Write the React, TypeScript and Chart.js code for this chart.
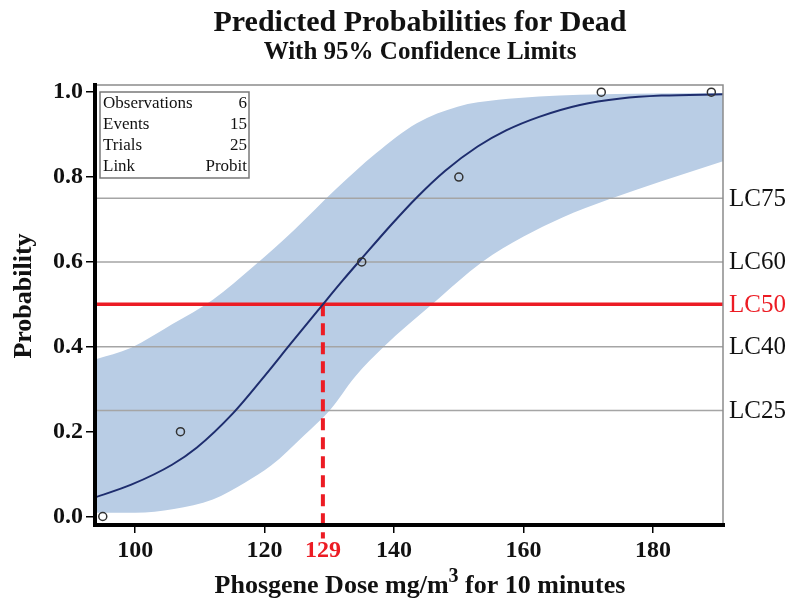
import React, { useEffect, useRef } from "react";
import { Chart, registerables } from "chart.js";

Chart.register(...registerables);

// ---- Text ----
const TITLE = "Predicted Probabilities for Dead";
const SUBTITLE = "With 95% Confidence Limits";
const X_TITLE_MAIN = "Phosgene Dose mg/m";
const X_TITLE_SUP = "3";
const X_TITLE_END = " for 10 minutes";
const Y_TITLE = "Probability";

// ---- Axes ----
const X_MIN = 93.8;
const X_MAX = 190.8;
const Y_MIN = -0.02;
const Y_MAX = 1.017;
const X_TICKS = [100, 120, 129, 140, 160, 180];
const Y_TICKS = [0, 0.2, 0.4, 0.6, 0.8, 1.0];

// ---- LC reference levels ----
const LC50_DOSE = 129;
const LC_LEVELS = [0.75, 0.6, 0.5, 0.4, 0.25];
const LC_LABELS = ["LC75", "LC60", "LC50", "LC40", "LC25"];

// ---- Stats inset ----
const STAT_NAMES = ["Observations", "Events", "Trials", "Link"];
const STAT_VALUES = ["6", "15", "25", "Probit"];

// ---- Observed proportions ----
const OBS_DOSE = [95, 107, 135, 150, 172, 189];
const OBS_PROB = [0, 0.2, 0.6, 0.8, 1.0, 1.0];

// ---- Fitted probit curve ----
const FIT_DOSE = [93.8, 99.4, 105.7, 109.5, 115.1, 120.2, 123.9, 129, 132.1, 135.1, 139.7, 143.5, 147.9, 152.9, 157.3, 162.4, 168.7, 175, 181.3, 190.8];
const FIT_PROB = [0.045, 0.075, 0.122, 0.162, 0.243, 0.335, 0.405, 0.5, 0.557, 0.61, 0.69, 0.752, 0.815, 0.872, 0.91, 0.942, 0.97, 0.985, 0.992, 0.995];

// ---- 95% confidence limits ----
const UPPER_DOSE = [93.8, 99.4, 105.7, 112, 118.3, 124.6, 130.9, 137.2, 143.5, 149.8, 156.1, 162.4, 168.7, 180, 190.8];
const UPPER_PROB = [0.37, 0.398, 0.453, 0.511, 0.59, 0.676, 0.77, 0.856, 0.927, 0.966, 0.982, 0.99, 0.994, 0.997, 0.998];
const LOWER_DOSE = [93.8, 100, 106, 112, 117, 121, 126, 130.2, 134, 138.4, 146, 153.6, 160, 166, 173.1, 181.3, 190.8];
const LOWER_PROB = [0.009, 0.009, 0.018, 0.04, 0.08, 0.12, 0.19, 0.253, 0.33, 0.4, 0.502, 0.6, 0.66, 0.705, 0.747, 0.79, 0.837];

const SERIF = "'Liberation Serif', 'Times New Roman', serif";
const RED = "rgb(236,28,36)";
const BAND = "rgb(185,205,229)";
const NAVY = "rgb(30,45,110)";
const GRID_GRAY = "rgb(165,165,165)";

const zip = (xs: number[], ys: number[]) => xs.map((x, i) => ({ x, y: ys[i] }));

const decorPlugin = {
  id: "decor",
  afterDatasetsDraw(chart: any) {
    const ctx: CanvasRenderingContext2D = chart.ctx;
    const { left, right, top, bottom } = chart.chartArea;
    ctx.save();
    // top/right frame (thin gray)
    ctx.strokeStyle = "rgb(140,140,140)";
    ctx.lineWidth = 1.5;
    ctx.beginPath();
    ctx.moveTo(left, top);
    ctx.lineTo(right, top);
    ctx.lineTo(right, bottom);
    ctx.stroke();
    // left/bottom axis lines (thick black)
    ctx.strokeStyle = "#000";
    ctx.lineWidth = 4;
    ctx.lineCap = "square";
    ctx.beginPath();
    ctx.moveTo(left, top);
    ctx.lineTo(left, bottom);
    ctx.lineTo(right, bottom);
    ctx.stroke();
    ctx.restore();
  },
  afterDraw(chart: any) {
    const ctx: CanvasRenderingContext2D = chart.ctx;
    const { left, right, top } = chart.chartArea;
    const ys = chart.scales.y;
    ctx.save();

    // LC labels
    ctx.font = `25px ${SERIF}`;
    ctx.textAlign = "left";
    ctx.textBaseline = "middle";
    LC_LEVELS.forEach((lv, i) => {
      ctx.fillStyle = lv === 0.5 ? RED : "#111";
      ctx.fillText(LC_LABELS[i], right + 6, ys.getPixelForValue(lv) + 1);
    });

    // Stats inset
    const bx = left + 5, by = top + 7, bw = 149, bh = 86;
    ctx.fillStyle = "#fff";
    ctx.fillRect(bx, by, bw, bh);
    ctx.strokeStyle = "rgb(120,120,120)";
    ctx.lineWidth = 1.5;
    ctx.strokeRect(bx, by, bw, bh);
    ctx.font = `17px ${SERIF}`;
    ctx.fillStyle = "#111";
    STAT_NAMES.forEach((n, i) => {
      const yy = by + 12 + i * 20.7;
      ctx.textAlign = "left";
      ctx.fillText(n, bx + 3, yy);
      ctx.textAlign = "right";
      ctx.fillText(STAT_VALUES[i], bx + bw - 2, yy);
    });

    // Titles
    const cx = 420;
    ctx.fillStyle = "#111";
    ctx.textAlign = "center";
    ctx.font = `bold 30px ${SERIF}`;
    ctx.fillText(TITLE, cx, 23);
    ctx.font = `bold 25px ${SERIF}`;
    ctx.fillText(SUBTITLE, cx, 53);

    // Y axis title
    ctx.save();
    ctx.translate(24, 296);
    ctx.rotate(-Math.PI / 2);
    ctx.font = `bold 26px ${SERIF}`;
    ctx.fillText(Y_TITLE, 0, 0);
    ctx.restore();

    // X axis title with superscript
    ctx.textAlign = "left";
    const mainFont = `bold 26px ${SERIF}`;
    const supFont = `bold 20px ${SERIF}`;
    ctx.font = mainFont;
    const w1 = ctx.measureText(X_TITLE_MAIN).width;
    const w3 = ctx.measureText(X_TITLE_END).width;
    ctx.font = supFont;
    const w2 = ctx.measureText(X_TITLE_SUP).width;
    const x0 = cx - (w1 + w2 + w3) / 2;
    const ty = 586;
    ctx.font = mainFont;
    ctx.fillText(X_TITLE_MAIN, x0, ty);
    ctx.font = supFont;
    ctx.fillText(X_TITLE_SUP, x0 + w1, ty - 9);
    ctx.font = mainFont;
    ctx.fillText(X_TITLE_END, x0 + w1 + w2, ty);

    ctx.restore();
  },
};

export default function App() {
  const ref = useRef<HTMLCanvasElement | null>(null);

  useEffect(() => {
    if (!ref.current) return;
    const chart = new Chart(ref.current, {
      type: "scatter",
      data: {
        datasets: [
          {
            label: "Observed",
            data: zip(OBS_DOSE, OBS_PROB),
            showLine: false,
            pointRadius: 4,
            pointBorderWidth: 1.5,
            borderColor: "rgb(50,50,50)",
            backgroundColor: "rgba(0,0,0,0)",
            order: 0,
          },
          {
            label: "Predicted",
            data: zip(FIT_DOSE, FIT_PROB),
            showLine: true,
            pointRadius: 0,
            borderColor: NAVY,
            borderWidth: 2,
            cubicInterpolationMode: "monotone",
            order: 1,
          },
          {
            label: "LC50 line",
            data: [{ x: X_MIN, y: 0.5 }, { x: X_MAX, y: 0.5 }],
            showLine: true,
            pointRadius: 0,
            borderColor: RED,
            borderWidth: 3.5,
            order: 2,
          },
          {
            label: "LC50 dose",
            data: [{ x: LC50_DOSE, y: 0.5 }, { x: LC50_DOSE, y: -0.052 }],
            showLine: true,
            pointRadius: 0,
            borderColor: RED,
            borderWidth: 4,
            borderDash: [12, 7],
            clip: false,
            order: 2,
          },
          ...LC_LEVELS.filter((lv) => lv !== 0.5).map((lv) => ({
            label: "level " + lv,
            data: [{ x: X_MIN, y: lv }, { x: X_MAX, y: lv }],
            showLine: true,
            pointRadius: 0,
            borderColor: GRID_GRAY,
            borderWidth: 1.5,
            order: 3,
          })),
          {
            label: "Upper",
            data: zip(UPPER_DOSE, UPPER_PROB),
            showLine: true,
            pointRadius: 0,
            borderWidth: 0,
            borderColor: BAND,
            backgroundColor: BAND,
            cubicInterpolationMode: "monotone",
            fill: "+1",
            order: 4,
          },
          {
            label: "Lower",
            data: zip(LOWER_DOSE, LOWER_PROB),
            showLine: true,
            pointRadius: 0,
            borderWidth: 0,
            borderColor: BAND,
            backgroundColor: BAND,
            cubicInterpolationMode: "monotone",
            fill: false,
            order: 5,
          },
        ] as any,
      },
      options: {
        animation: false,
        responsive: true,
        maintainAspectRatio: false,
        layout: { padding: { top: 85, right: 68, left: 0, bottom: 0 } },
        plugins: {
          legend: { display: false },
          title: { display: false },
          tooltip: { enabled: false },
        },
        scales: {
          x: {
            type: "linear",
            min: X_MIN,
            max: X_MAX,
            afterBuildTicks: (s: any) => {
              s.ticks = X_TICKS.map((v) => ({ value: v }));
            },
            afterFit: (s: any) => {
              s.height = 79;
            },
            border: { display: false },
            grid: {
              drawOnChartArea: false,
              drawTicks: true,
              tickLength: 8,
              lineWidth: 1.5,
              color: (c: any) => (c.tick && c.tick.value === LC50_DOSE ? "rgba(0,0,0,0)" : "#000"),
            },
            ticks: {
              autoSkip: false,
              maxRotation: 0,
              padding: 3,
              font: { family: SERIF, size: 24, weight: "bold" },
              color: (c: any) => (c.tick && c.tick.value === LC50_DOSE ? RED : "#111"),
              callback: (v: any) => String(v),
            },
          },
          y: {
            type: "linear",
            min: Y_MIN,
            max: Y_MAX,
            afterBuildTicks: (s: any) => {
              s.ticks = Y_TICKS.map((v) => ({ value: v }));
            },
            afterFit: (s: any) => {
              s.width = 95;
            },
            border: { display: false },
            grid: {
              drawOnChartArea: false,
              drawTicks: true,
              tickLength: 9,
              lineWidth: 1.5,
              color: "#000",
            },
            ticks: {
              padding: 3,
              font: { family: SERIF, size: 24, weight: "bold" },
              color: "#111",
              callback: (v: any) => Number(v).toFixed(1),
            },
          },
        },
      },
      plugins: [decorPlugin],
    });
    return () => chart.destroy();
  }, []);

  return (
    <div style={{ position: "absolute", left: 0, top: 0, width: 791, height: 604, background: "#fff" }}>
      <canvas ref={ref} />
    </div>
  );
}
